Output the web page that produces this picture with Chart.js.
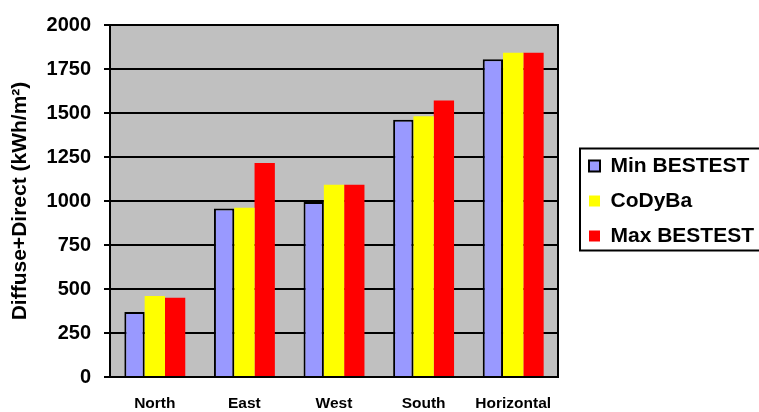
<!DOCTYPE html>
<html>
<head>
<meta charset="utf-8">
<script src="https://cdn.jsdelivr.net/npm/chart.js@4.4.1/dist/chart.umd.min.js"></script>
<style>
  html, body { margin: 0; padding: 0; background: #ffffff; }
  #wrap { position: relative; width: 759px; height: 412px; }
</style>
</head>
<body>
<div id="wrap"><canvas id="c" width="759" height="412"></canvas></div>
<script>
const categories = ["North", "East", "West", "South", "Horizontal"];
const minBestest = [370, 957, 995, 1462, 1805];
const coDyBa = [460, 962, 1092, 1481, 1842];
const maxBestest = [450, 1216, 1092, 1571, 1842];
const seriesNames = ["Min BESTEST", "CoDyBa", "Max BESTEST"];
const yTicks = [0, 250, 500, 750, 1000, 1250, 1500, 1750, 2000];
const yTitle = "Diffuse+Direct (kWh/m\u00B2)";

const FONT = "'Liberation Sans', Arial, sans-serif";

const bgPlugin = {
  id: 'plotBg',
  beforeDraw(chart) {
    const {ctx, chartArea: a} = chart;
    ctx.save();
    ctx.fillStyle = '#C0C0C0';
    ctx.fillRect(a.left, a.top, a.right - a.left, a.bottom - a.top);
    ctx.restore();
  },
  afterDatasetsDraw(chart) {
    const {ctx, chartArea: a} = chart;
    ctx.save();
    ctx.strokeStyle = '#000';
    ctx.lineWidth = 2;
    ctx.beginPath();
    ctx.moveTo(a.left, a.top);
    ctx.lineTo(a.right, a.top);
    ctx.lineTo(a.right, a.bottom);
    ctx.lineTo(a.left, a.bottom);
    ctx.closePath();
    ctx.stroke();
    ctx.restore();
  },
  afterInit(chart) {
    const lg = chart.legend;
    if (lg) {
      const f = lg.fit.bind(lg);
      lg.fit = function () { f(); this.width = 184; };
    }
  },
  afterLayout(chart) {
    const lg = chart.legend;
    if (lg) { lg.top -= 16; lg.bottom -= 16; }
  },
  afterDraw(chart) {
    const lg = chart.legend;
    if (!lg || !lg.legendHitBoxes || !lg.legendHitBoxes.length) return;
    const hb = lg.legendHitBoxes;
    const top = hb[0].top - 7;
    const bottom = hb[hb.length - 1].top + hb[hb.length - 1].height + 4;
    const left = lg.left + 5;
    const ctx = chart.ctx;
    ctx.save();
    ctx.strokeStyle = '#000';
    ctx.lineWidth = 2;
    ctx.strokeRect(left, top, 800 - left, bottom - top);
    ctx.restore();
  }
};

new Chart(document.getElementById('c'), {
  type: 'bar',
  data: {
    labels: categories,
    datasets: [
      { label: seriesNames[0], data: minBestest, backgroundColor: '#9999FF', borderColor: '#000000', borderWidth: 2, borderSkipped: 'bottom' },
      { label: seriesNames[1], data: coDyBa, backgroundColor: '#FFFF00', borderColor: '#FFFF00', borderWidth: 0 },
      { label: seriesNames[2], data: maxBestest, backgroundColor: '#FF0000', borderColor: '#FF0000', borderWidth: 0 }
    ]
  },
  options: {
    responsive: false,
    animation: false,
    devicePixelRatio: 1,
    layout: { padding: { top: 22, left: 0, right: 0, bottom: 0 } },
    datasets: { bar: { categoryPercentage: 0.68, barPercentage: 1.0 } },
    scales: {
      x: {
        grid: { display: false, drawTicks: false },
        border: { display: true, color: '#000', width: 2 },
        ticks: { color: '#000', font: { family: FONT, size: 15.5, weight: 'bold' }, padding: 17, maxRotation: 0 },
        afterFit(s) { s.height = 35; }
      },
      y: {
        min: 0, max: 2000,
        afterBuildTicks(s) { s.ticks = yTicks.map(v => ({ value: v })); },
        grid: { color: '#000', lineWidth: 2, drawTicks: true, tickLength: 6, tickColor: '#000' },
        border: { display: true, color: '#000', width: 2 },
        ticks: { color: '#000', font: { family: FONT, size: 20, weight: 'bold' }, padding: 13, callback: v => String(v) },
        title: { display: true, text: yTitle, color: '#000', font: { family: FONT, size: 21, weight: 'bold' }, padding: { top: 8, bottom: 0 } },
        afterFit(s) { s.width = 110; }
      },
      gap: {
        position: 'right',
        display: true,
        grid: { display: false, drawTicks: false },
        border: { display: false },
        ticks: { display: false },
        afterFit(s) { s.width = 17; }
      }
    },
    plugins: {
      legend: {
        position: 'right',
        align: 'center',
        labels: {
          color: '#000',
          font: { family: FONT, size: 21, weight: 'bold' },
          boxWidth: 11,
          boxHeight: 11,
          padding: 14
        }
      },
      tooltip: { enabled: false }
    }
  },
  plugins: [bgPlugin]
});
</script>
</body>
</html>
